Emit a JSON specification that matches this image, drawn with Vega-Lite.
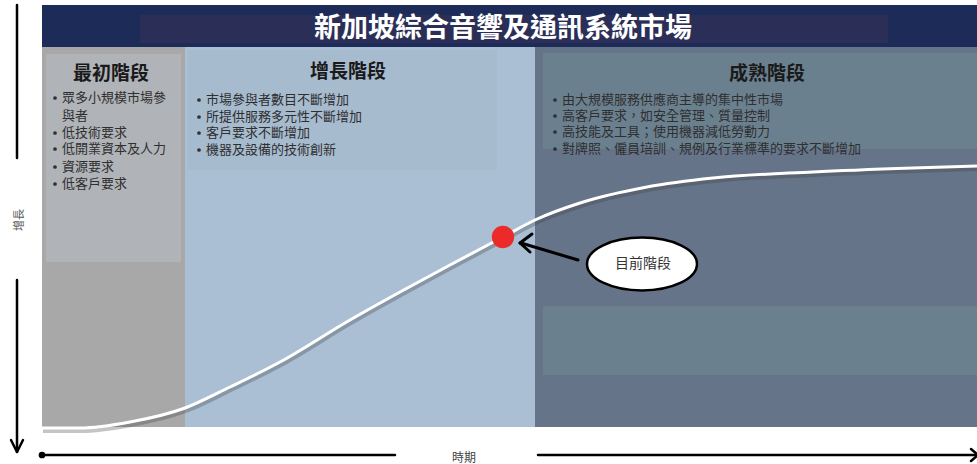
{
  "$schema": "https://vega.github.io/schema/vega-lite/v6.json",
  "width": 977,
  "height": 464,
  "autosize": {"type": "none"},
  "padding": 0,
  "background": "white",
  "config": {"view": {"stroke": null}, "font": "Noto Sans CJK TC"},
  "datasets": {
    "panels": [
      {"part": "title", "x": 42, "x2": 977, "y": 5, "y2": 47},
      {"part": "titleInner", "x": 140, "x2": 888, "y": 15, "y2": 43},
      {"part": "stage1", "x": 42, "x2": 185, "y": 47, "y2": 427},
      {"part": "stage1Inner", "x": 46, "x2": 181, "y": 54, "y2": 262},
      {"part": "stage2", "x": 185, "x2": 535, "y": 47, "y2": 427},
      {"part": "stage2Inner", "x": 188, "x2": 497, "y": 50, "y2": 170},
      {"part": "stage3", "x": 535, "x2": 977, "y": 47, "y2": 427},
      {"part": "stage3Inner", "x": 543, "x2": 977, "y": 53, "y2": 149},
      {"part": "stage3Lower", "x": 543, "x2": 977, "y": 306, "y2": 375}
    ],
    "curve": [
      {"x": 42, "y": 428}, {"x": 80, "y": 428}, {"x": 130, "y": 422},
      {"x": 185, "y": 408}, {"x": 230, "y": 387}, {"x": 280, "y": 362},
      {"x": 350, "y": 320}, {"x": 400, "y": 292}, {"x": 450, "y": 265},
      {"x": 503, "y": 237}, {"x": 535, "y": 220}, {"x": 580, "y": 203},
      {"x": 647, "y": 187}, {"x": 713, "y": 178}, {"x": 813, "y": 172},
      {"x": 913, "y": 168}, {"x": 977, "y": 166}
    ],
    "segments": [
      {"kind": "axis", "x": 17, "y": 5, "x2": 17, "y2": 158},
      {"kind": "axis", "x": 17, "y": 280, "x2": 17, "y2": 451},
      {"kind": "axis", "x": 11, "y": 440, "x2": 17, "y2": 452},
      {"kind": "axis", "x": 23, "y": 440, "x2": 17, "y2": 452},
      {"kind": "axis", "x": 42, "y": 455, "x2": 395, "y2": 455},
      {"kind": "axis", "x": 538, "y": 455, "x2": 977, "y2": 455},
      {"kind": "axis", "x": 971, "y": 449, "x2": 978, "y2": 455},
      {"kind": "axis", "x": 971, "y": 461, "x2": 978, "y2": 455},
      {"kind": "callout", "x": 578, "y": 260, "x2": 521, "y2": 243},
      {"kind": "callout", "x": 532, "y": 234, "x2": 520, "y2": 243},
      {"kind": "callout", "x": 530, "y": 252, "x2": 520, "y2": 243}
    ],
    "bullets": [
      {"x": 62, "y": 98, "bullet": true, "text": "眾多小規模市場參"},
      {"x": 62, "y": 116, "bullet": false, "text": "與者"},
      {"x": 62, "y": 133, "bullet": true, "text": "低技術要求"},
      {"x": 62, "y": 149, "bullet": true, "text": "低開業資本及人力"},
      {"x": 62, "y": 167, "bullet": true, "text": "資源要求"},
      {"x": 62, "y": 184, "bullet": true, "text": "低客戶要求"},
      {"x": 206, "y": 100, "bullet": true, "text": "市場參與者數目不斷增加"},
      {"x": 206, "y": 117, "bullet": true, "text": "所提供服務多元性不斷增加"},
      {"x": 206, "y": 133, "bullet": true, "text": "客戶要求不斷增加"},
      {"x": 206, "y": 150, "bullet": true, "text": "機器及設備的技術創新"},
      {"x": 562, "y": 100, "bullet": true, "text": "由大規模服務供應商主導的集中性市場"},
      {"x": 562, "y": 116, "bullet": true, "text": "高客戶要求，如安全管理、質量控制"},
      {"x": 562, "y": 132, "bullet": true, "text": "高技能及工具；使用機器減低勞動力"},
      {"x": 562, "y": 149, "bullet": true, "text": "對牌照、僱員培訓、規例及行業標準的要求不斷增加"}
    ],
    "headings": [
      {"x": 111, "y": 74, "text": "最初階段"},
      {"x": 348, "y": 72, "text": "增長階段"},
      {"x": 767, "y": 74, "text": "成熟階段"}
    ]
  },
  "encoding": {
    "x": {"field": "x", "type": "quantitative", "scale": {"domain": [0, 977], "nice": false, "zero": false}, "axis": null},
    "y": {"field": "y", "type": "quantitative", "scale": {"domain": [0, 464], "nice": false, "zero": false, "reverse": true}, "axis": null}
  },
  "layer": [
    {
      "data": {"name": "panels"},
      "mark": {"type": "rect"},
      "encoding": {
        "x2": {"field": "x2"},
        "y2": {"field": "y2"},
        "color": {
          "field": "part", "type": "nominal", "legend": null,
          "scale": {
            "domain": ["title", "titleInner", "stage1", "stage1Inner", "stage2", "stage2Inner", "stage3", "stage3Inner", "stage3Lower"],
            "range": ["#1d2b58", "#2b2f57", "#a8a8a8", "#b0b3b7", "#aabfd3", "#a7bbcf", "#667489", "#6b808f", "#6b808f"]
          }
        }
      }
    },
    {
      "data": {"name": "curve"},
      "mark": {"type": "line", "interpolate": "monotone", "stroke": "#3a3a3a", "strokeWidth": 4, "opacity": 0.3, "yOffset": 3, "xOffset": 1},
      "encoding": {}
    },
    {
      "data": {"name": "curve"},
      "mark": {"type": "line", "interpolate": "monotone", "stroke": "white", "strokeWidth": 3},
      "encoding": {}
    },
    {
      "data": {"name": "segments"},
      "transform": [{"filter": "datum.kind === 'axis'"}],
      "mark": {"type": "rule", "stroke": "black", "strokeWidth": 2.5, "strokeCap": "round"},
      "encoding": {"x2": {"field": "x2"}, "y2": {"field": "y2"}}
    },
    {
      "data": {"name": "segments"},
      "transform": [{"filter": "datum.kind === 'callout'"}],
      "mark": {"type": "rule", "stroke": "black", "strokeWidth": 3, "strokeCap": "round"},
      "encoding": {"x2": {"field": "x2"}, "y2": {"field": "y2"}}
    },
    {
      "data": {"values": [{"x": 42, "y": 455}]},
      "mark": {"type": "point", "shape": "circle", "filled": true, "color": "black", "size": 45, "opacity": 1},
      "encoding": {}
    },
    {
      "data": {"values": [{"x": 503, "y": 237, "label": "目前階段"}]},
      "mark": {"type": "point", "shape": "circle", "filled": true, "color": "#ec2a2a", "size": 500, "opacity": 1},
      "encoding": {}
    },
    {
      "data": {"values": [{"x": 642, "y": 264, "label": "目前階段"}]},
      "mark": {"type": "point", "shape": "M -1 0 A 1 0.48 0 1 0 1 0 A 1 0.48 0 1 0 -1 0 Z", "filled": false, "fill": "white", "fillOpacity": 1, "stroke": "black", "strokeWidth": 2.5, "size": 12100, "opacity": 1},
      "encoding": {}
    },
    {
      "data": {"values": [{"x": 643, "y": 264, "label": "目前階段"}]},
      "mark": {"type": "text", "fontSize": 14, "color": "#333333", "align": "center", "baseline": "middle"},
      "encoding": {"text": {"field": "label"}}
    },
    {
      "data": {"values": [{"x": 503, "y": 29, "label": "新加坡綜合音響及通訊系統市場"}]},
      "mark": {"type": "text", "fontSize": 27, "fontWeight": "bold", "color": "white", "align": "center", "baseline": "middle"},
      "encoding": {"text": {"field": "label"}}
    },
    {
      "data": {"name": "headings"},
      "mark": {"type": "text", "fontSize": 19, "fontWeight": "bold", "color": "#1a1a1a", "align": "center", "baseline": "middle"},
      "encoding": {"text": {"field": "text"}}
    },
    {
      "data": {"name": "bullets"},
      "mark": {"type": "text", "fontSize": 13, "color": "#2f2f2f", "align": "left", "baseline": "middle"},
      "encoding": {"text": {"field": "text"}}
    },
    {
      "data": {"name": "bullets"},
      "transform": [{"filter": "datum.bullet"}],
      "mark": {"type": "point", "shape": "circle", "filled": true, "color": "#2f2f2f", "size": 14, "opacity": 1, "xOffset": -7},
      "encoding": {}
    },
    {
      "data": {"values": [{"x": 20, "y": 220, "label": "增長"}]},
      "mark": {"type": "text", "fontSize": 11, "color": "#555555", "angle": 270, "align": "center", "baseline": "middle"},
      "encoding": {"text": {"field": "label"}}
    },
    {
      "data": {"values": [{"x": 464, "y": 458, "label": "時期"}]},
      "mark": {"type": "text", "fontSize": 12, "color": "#444444", "align": "center", "baseline": "middle"},
      "encoding": {"text": {"field": "label"}}
    }
  ]
}
